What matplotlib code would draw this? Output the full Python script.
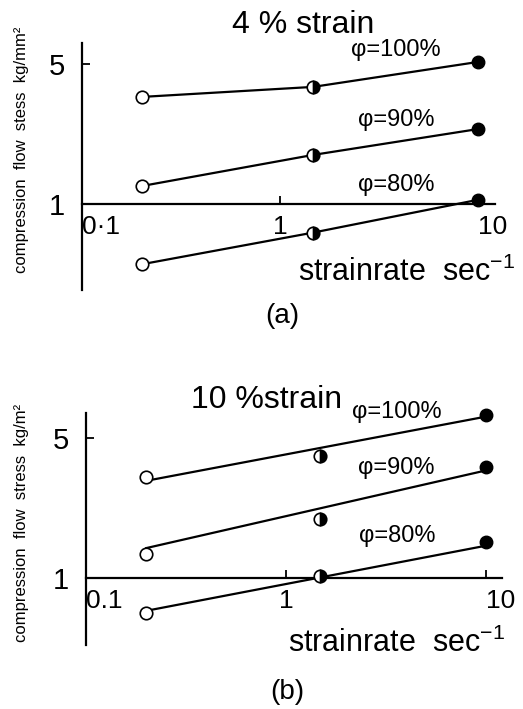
import matplotlib
matplotlib.use("Agg")
from matplotlib import pyplot as plt

plt.rcParams['font.family'] = ['Liberation Sans', 'DejaVu Sans']
plt.rcParams['mathtext.fontset'] = 'custom'
plt.rcParams['mathtext.rm'] = 'Liberation Sans'

W, H = 523, 709

# strain rates (sec^-1) of the three test series
rates = [0.2, 1.47, 10]

# (a) 4 % strain, flow stress kg/mm^2
phi100_a = [3.43, 3.85, 5.13]
phi90_a = [1.23, 1.76, 2.37]
phi80_a = [0.50, 0.72, 1.05]

# (b) 10 % strain, measured points
phi100_b = [3.2, 4.07, 6.53]
phi90_b = [1.32, 1.97, 3.59]
phi80_b = [0.67, 1.02, 1.51]

# (b) fitted lines, evaluated at the ends
fit_rates_b = [0.2, 10]
fit100_b = [3.06, 6.41]
fit90_b = [1.41, 3.45]
fit80_b = [0.685, 1.45]

labels = ['φ=100%', 'φ=90%', 'φ=80%']
xticks = [0.1, 1, 10]
yticks = [1, 5]

fig = plt.figure(figsize=(W / 100, H / 100), dpi=100)


def px_axes(x0, x1, y0, y1):
    return fig.add_axes([x0 / W, 1 - y1 / H, (x1 - x0) / W, (y1 - y0) / H])


def ftext(x, y, s, **kw):
    fig.text(x / W, 1 - y / H, s, ha='center', va='center', **kw)


def setup(ax, xlim, ylim, xlab0):
    ax.set_xscale('log')
    ax.set_yscale('log')
    ax.set_xlim(*xlim)
    ax.set_ylim(*ylim)
    ax.patch.set_visible(False)
    for s in ['top', 'right']:
        ax.spines[s].set_visible(False)
    ax.spines['bottom'].set_position(('data', 1))
    ax.spines['bottom'].set_linewidth(1.6)
    ax.spines['left'].set_linewidth(1.6)
    ax.minorticks_off()
    ax.set_xticks(xticks)
    ax.set_xticklabels([xlab0, '1', '10'], fontsize=19)
    ax.set_yticks(yticks)
    ax.set_yticklabels([str(v) for v in yticks], fontsize=21)
    ax.tick_params(axis='x', direction='in', length=6, width=1.3, pad=8)
    ax.tick_params(axis='y', direction='in', length=6, width=1.3, pad=12)
    tl = ax.get_xticklabels()
    tl[0].set_horizontalalignment('left')
    tl[2].set_horizontalalignment('left')


def marks(ax, ys):
    ax.plot(rates[0], ys[0], 'o', ms=9, mfc='white', mec='black', mew=1.2,
            clip_on=False, zorder=3)
    ax.plot(rates[1], ys[1], 'o', ms=9, fillstyle='right', mfc='black',
            mfcalt='white', mec='black', mew=1.2, clip_on=False, zorder=3)
    ax.plot(rates[2], ys[2], 'o', ms=9, mfc='black', mec='black',
            clip_on=False, zorder=3)


# ---- (a) ----
ax1 = px_axes(82, 495, 43, 290)
setup(ax1, (0.1, 12.2), (0.372, 6.38), '0·1')
for ys in [phi100_a, phi90_a, phi80_a]:
    ax1.plot(rates, ys, color='black', lw=1.6, clip_on=False, zorder=2)
    marks(ax1, ys)

ftext(303, 25, '4 % strain', fontsize=23)
ftext(396, 50, labels[0], fontsize=17)
ftext(396, 120, labels[1], fontsize=17)
ftext(396, 185, labels[2], fontsize=17)
ftext(407, 272, r'strainrate  sec$^{\mathregular{-1}}$', fontsize=22)
ftext(282, 316, '(a)', fontsize=20)
ftext(22, 150, 'compression  flow  stess  kg/mm²', fontsize=12, rotation=90)

# ---- (b) ----
ax2 = px_axes(86, 502, 413, 645)
setup(ax2, (0.1, 12.0), (0.462, 6.68), '0.1')
for fy, ys in zip([fit100_b, fit90_b, fit80_b], [phi100_b, phi90_b, phi80_b]):
    ax2.plot(fit_rates_b, fy, color='black', lw=1.6, clip_on=False, zorder=2)
    marks(ax2, ys)

ftext(267, 400, '10 %strain', fontsize=23)
ftext(397, 412, labels[0], fontsize=17)
ftext(396, 468, labels[1], fontsize=17)
ftext(397, 536, labels[2], fontsize=17)
ftext(397, 643, r'strainrate  sec$^{\mathregular{-1}}$', fontsize=22)
ftext(287, 692, '(b)', fontsize=20)
ftext(22, 523, 'compression  flow  stress  kg/m²', fontsize=12, rotation=90)

fig.savefig('out.png', dpi=100)
